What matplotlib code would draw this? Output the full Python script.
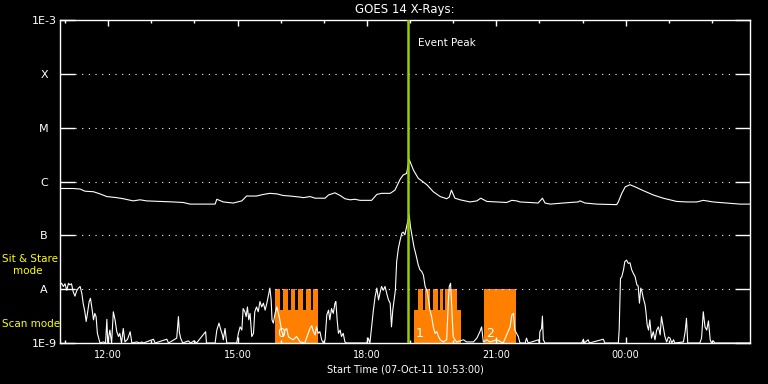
import matplotlib
matplotlib.use("Agg")
import matplotlib.pyplot as plt
from matplotlib.ticker import NullLocator
import numpy as np

# ---------- data ----------
# time in hours since 07-Oct-11 00:00, flux as log10(W/m^2)
LONG_T = [10.88, 11.19, 11.35, 11.46, 11.66, 11.81, 11.97, 12.20, 12.35, 12.58,
          12.74, 12.89, 13.20, 13.51, 13.74, 13.90, 14.48, 14.52, 14.67, 14.90,
          15.10, 15.21, 15.44, 15.60, 15.75, 15.91, 16.06, 16.22, 16.45, 16.53,
          16.68, 16.80, 17.03, 17.11, 17.26, 17.38, 17.49, 17.61, 17.72, 17.84,
          18.11, 18.23, 18.34, 18.54, 18.65, 18.77, 18.84, 18.92, 18.98, 19.08,
          19.19, 19.39, 19.54, 19.70, 19.85, 19.91, 19.96, 20.04, 20.16, 20.39,
          20.55, 20.64, 20.78, 21.24, 21.36, 21.47, 21.55, 21.78, 21.97, 22.07,
          22.13, 22.25, 22.55, 22.71, 22.90, 22.94, 23.06, 23.33, 23.79, 23.83,
          23.91, 23.99, 24.10, 24.22, 24.41, 24.64, 24.87, 25.18, 25.42, 25.65,
          25.80, 26.03, 26.34, 26.65, 26.88]
LONG_LOGF = [-6.13, -6.13, -6.14, -6.18, -6.19, -6.23, -6.28, -6.30, -6.32, -6.36,
             -6.34, -6.36, -6.37, -6.38, -6.39, -6.42, -6.42, -6.33, -6.38, -6.40,
             -6.36, -6.27, -6.27, -6.24, -6.22, -6.23, -6.26, -6.27, -6.29, -6.30,
             -6.28, -6.31, -6.31, -6.25, -6.21, -6.26, -6.32, -6.34, -6.33, -6.35,
             -6.35, -6.24, -6.22, -6.22, -6.16, -5.96, -5.88, -5.85, -5.59, -5.79,
             -5.94, -6.06, -6.19, -6.28, -6.32, -6.29, -6.16, -6.31, -6.34, -6.38,
             -6.36, -6.31, -6.37, -6.39, -6.35, -6.36, -6.38, -6.39, -6.40, -6.31,
             -6.40, -6.42, -6.40, -6.39, -6.38, -6.36, -6.40, -6.42, -6.43, -6.38,
             -6.22, -6.10, -6.06, -6.10, -6.17, -6.25, -6.31, -6.37, -6.38, -6.38,
             -6.35, -6.38, -6.40, -6.42, -6.42]

SHORT_T = [10.88, 10.92, 10.96, 11.00, 11.04, 11.08, 11.11, 11.15, 11.19, 11.23,
           11.27, 11.31, 11.35, 11.39, 11.42, 11.46, 11.49, 11.52, 11.56, 11.59,
           11.63, 11.66, 11.69, 11.72, 11.75, 11.78, 11.81, 11.89, 11.94, 11.97,
           11.99, 12.04, 12.08, 12.12, 12.16, 12.20, 12.24, 12.27, 12.31, 12.35,
           12.39, 12.45, 12.51, 12.55, 12.66, 12.74, 12.78, 12.82, 13.05, 13.09,
           13.36, 13.40, 13.59, 13.63, 13.65, 13.68, 13.73, 13.86, 13.91, 13.99,
           14.05, 14.26, 14.28, 14.48, 14.52, 14.57, 14.61, 14.65, 14.67, 14.71,
           14.75, 14.98, 15.02, 15.06, 15.10, 15.13, 15.17, 15.20, 15.23, 15.26,
           15.29, 15.33, 15.37, 15.40, 15.44, 15.48, 15.52, 15.56, 15.60, 15.64,
           15.68, 15.71, 15.75, 15.78, 15.80, 15.83, 15.87, 15.91, 15.95, 15.98,
           16.02, 16.06, 16.10, 16.14, 16.18, 16.22, 16.29, 16.37, 16.45, 16.56,
           16.68, 16.72, 16.76, 16.80, 16.83, 16.87, 16.91, 16.95, 16.99, 17.03,
           17.07, 17.11, 17.14, 17.18, 17.22, 17.26, 17.28, 17.31, 17.34, 17.38,
           17.41, 17.45, 17.49, 17.53, 18.00, 18.03, 18.07, 18.11, 18.15, 18.19,
           18.23, 18.27, 18.30, 18.34, 18.38, 18.42, 18.46, 18.50, 18.54, 18.57,
           18.60, 18.63, 18.66, 18.69, 18.73, 18.77, 18.81, 18.84, 18.88, 18.92,
           18.95, 18.98, 19.01, 19.05, 19.09, 19.14, 19.19, 19.23, 19.27, 19.31,
           19.35, 19.39, 19.42, 19.46, 19.50, 19.54, 19.58, 19.62, 19.66, 19.70,
           19.77, 19.85, 19.89, 19.91, 19.94, 19.97, 20.00, 20.04, 20.08, 20.24,
           20.31, 20.47, 20.55, 20.62, 20.66, 20.70, 20.78, 20.85, 21.01, 21.16,
           21.24, 21.32, 21.36, 21.40, 21.43, 21.51, 21.55, 21.67, 21.70, 21.74,
           21.98, 22.00, 22.01, 22.05, 22.07, 22.09, 22.13, 22.98, 23.02, 23.04,
           23.13, 23.16, 23.48, 23.52, 23.83, 23.85, 23.88, 23.91, 23.95, 23.98,
           24.02, 24.06, 24.10, 24.14, 24.18, 24.22, 24.26, 24.29, 24.32, 24.35,
           24.38, 24.41, 24.45, 24.47, 24.50, 24.53, 24.56, 24.60, 24.64, 24.68,
           24.72, 24.76, 24.80, 24.83, 24.87, 24.91, 24.95, 24.99, 25.03, 25.07,
           25.11, 25.14, 25.34, 25.38, 25.41, 25.44, 25.72, 25.76, 25.80, 25.84,
           25.88, 25.92, 25.96, 25.99, 26.03, 26.07, 26.88]
SHORT_LOGF = [-7.92, -7.89, -7.95, -7.90, -8.02, -7.89, -7.92, -7.90, -8.05, -8.13,
              -8.03, -7.98, -7.95, -8.08, -8.26, -8.42, -8.60, -8.45, -8.23, -8.17,
              -8.39, -8.57, -8.45, -8.51, -8.82, -8.91, -9.00, -8.98, -9.00, -8.56,
              -9.00, -8.76, -9.00, -8.42, -8.57, -8.79, -8.88, -8.82, -9.00, -8.73,
              -8.98, -8.93, -8.79, -9.00, -8.98, -9.00, -8.98, -9.00, -8.93, -9.00,
              -8.93, -9.00, -8.91, -8.51, -8.79, -8.91, -9.00, -8.96, -9.00, -8.96,
              -9.00, -8.79, -9.00, -9.00, -8.76, -8.63, -8.75, -8.85, -8.94, -8.73,
              -9.00, -9.00, -8.82, -8.70, -8.76, -8.36, -8.42, -8.51, -8.33, -8.57,
              -8.45, -8.88, -8.82, -8.42, -8.33, -8.42, -8.23, -8.33, -8.26, -8.39,
              -8.26, -8.14, -7.98, -8.20, -8.57, -8.63, -8.45, -8.33, -8.45, -8.57,
              -8.76, -8.88, -8.76, -8.73, -8.88, -8.91, -8.94, -8.88, -8.98, -9.00,
              -8.73, -8.68, -8.79, -8.85, -8.70, -8.82, -8.79, -8.94, -9.00, -8.94,
              -8.48, -8.39, -8.57, -8.36, -8.45, -8.26, -8.23, -8.57, -8.82, -8.76,
              -8.88, -8.82, -8.98, -9.00, -9.00, -8.91, -9.00, -8.70, -8.39, -8.14,
              -7.98, -8.20, -8.08, -7.95, -8.02, -7.95, -8.08, -8.20, -8.26, -8.70,
              -8.39, -8.20, -8.02, -7.49, -7.24, -7.09, -6.96, -6.94, -6.99, -6.84,
              -6.72, -6.62, -6.84, -7.02, -7.21, -7.37, -7.55, -7.64, -7.67, -7.74,
              -7.95, -8.02, -8.14, -8.39, -8.51, -8.70, -8.82, -8.79, -8.88, -8.94,
              -8.98, -8.94, -8.20, -7.95, -7.89, -8.39, -8.88, -8.94, -8.98, -8.94,
              -8.98, -8.98, -8.91, -8.79, -8.70, -8.98, -8.94, -8.98, -8.94, -9.00,
              -8.85, -8.70, -8.48, -8.45, -8.76, -8.88, -9.00, -9.00, -8.91, -9.00,
              -8.94, -9.00, -8.79, -8.73, -8.50, -8.94, -9.00, -9.00, -8.93, -9.00,
              -8.94, -9.00, -8.93, -9.00, -9.00, -8.75, -7.80, -7.77, -7.64, -7.49,
              -7.46, -7.52, -7.51, -7.64, -7.71, -7.77, -7.92, -7.94, -8.26, -7.98,
              -8.05, -8.17, -8.29, -8.42, -8.67, -8.76, -8.57, -8.91, -8.79, -8.94,
              -8.76, -8.70, -8.85, -8.51, -8.70, -8.88, -8.98, -8.89, -8.91, -9.00,
              -8.94, -9.00, -8.98, -8.79, -8.54, -9.00, -9.00, -8.91, -8.42, -8.70,
              -8.76, -8.59, -8.94, -9.00, -8.96, -9.00, -9.00]

# observation blocks (hours)
SCAN_START = [15.87, 19.09]
SCAN_END = [16.87, 20.18]
STARE_START = [15.87, 16.05, 16.23, 16.40, 16.58, 16.76,
               19.19, 19.35, 19.53, 19.70, 19.81,
               20.72]
STARE_END = [15.98, 16.16, 16.34, 16.52, 16.70, 16.87,
             19.29, 19.46, 19.64, 19.76, 20.08,
             21.45]
BLOCK_T = [15.87, 19.09, 20.72]
BLOCK_LABELS = ["0", "1", "2"]
SCAN_TOP = 4.1e-9
STARE_TOP = 1e-8

EVENT_PEAK_T = 18.95
T_START = 10 + 53 / 60.0
T_END = T_START + 16

Y_TICKS = [1e-9, 1e-8, 1e-7, 1e-6, 1e-5, 1e-4, 1e-3]
Y_LABELS = ["1E-9", "A", "B", "C", "M", "X", "1E-3"]
X_TICKS = [12, 15, 18, 21, 24]
X_LABELS = ["12:00", "15:00", "18:00", "21:00", "00:00"]
X_MINOR = list(range(11, 27))

ORANGE = "#ff8000"
YELLOW = "#ffff00"
LIME = "#9acd00"

# ---------- figure ----------
W, H = 768, 384
fig = plt.figure(figsize=(W / 100, H / 100), dpi=100, facecolor="black")
ax = fig.add_axes([60 / W, 41 / H, 690 / W, 323 / H], facecolor="black")
ax.set_yscale("log")
ax.set_xlim(T_START, T_END)
ax.set_ylim(1e-9, 1e-3)

# orange mode blocks
for s, e in zip(SCAN_START, SCAN_END):
    ax.bar(s, SCAN_TOP - 1e-9, bottom=1e-9, width=e - s, align="edge",
           color=ORANGE, linewidth=0, zorder=1)
for s, e in zip(STARE_START, STARE_END):
    ax.bar(s, STARE_TOP - 1e-9, bottom=1e-9, width=e - s, align="edge",
           color=ORANGE, linewidth=0, zorder=1)
for t, lab in zip(BLOCK_T, BLOCK_LABELS):
    ax.text(t + 0.04, 1.15e-9, lab, color="white", fontsize=9,
            ha="left", va="bottom", zorder=2)

# dotted level lines
for y in Y_TICKS[1:-1]:
    ax.axhline(y, xmin=15 / 690, xmax=675 / 690, color="white", lw=0.8,
               linestyle=(0, (1, 5)), zorder=1.5)

# flux curves
ax.plot(LONG_T, 10 ** np.array(LONG_LOGF), color="white", lw=0.8, zorder=3)
ax.plot(SHORT_T, 10 ** np.array(SHORT_LOGF), color="white", lw=0.8, zorder=3)

# event peak
ax.axvline(EVENT_PEAK_T, color=LIME, lw=1.8, zorder=4)
ax.text(EVENT_PEAK_T + 0.23, 10 ** -3.43, "Event Peak", color="white",
        fontsize=7.5, ha="left", va="center")

# axes styling
for sp in ax.spines.values():
    sp.set_color("white")
    sp.set_linewidth(1)

ax.set_yticks(Y_TICKS)
ax.set_yticklabels(Y_LABELS)
ax.yaxis.set_minor_locator(NullLocator())
ax.tick_params(axis="y", which="major", direction="in", length=10.8,
               width=1, right=True, colors="white", labelsize=8, pad=11.5)
for lbl in ax.get_yticklabels():
    lbl.set_ha("center")

ax.set_xticks(X_TICKS)
ax.set_xticklabels(X_LABELS)
ax.set_xticks(X_MINOR, minor=True)
ax.tick_params(axis="x", which="major", direction="in", length=4.3,
               width=1, top=True, colors="white", labelsize=7, pad=5)
ax.tick_params(axis="x", which="minor", direction="in", length=2.5,
               width=1, top=True, colors="white")

# texts
fig.text(405 / W, 1 - 9 / H, "GOES 14 X-Rays:", color="white",
         fontsize=8.5, ha="center", va="center")
fig.text(405 / W, 1 - 369 / H, "Start Time (07-Oct-11 10:53:00)",
         color="white", fontsize=7, ha="center", va="center")
fig.text(2 / W, 1 - 259 / H, "Sit & Stare", color=YELLOW, fontsize=7.5,
         ha="left", va="center")
fig.text(13 / W, 1 - 271 / H, "mode", color=YELLOW, fontsize=7.5,
         ha="left", va="center")
fig.text(2 / W, 1 - 324 / H, "Scan mode", color=YELLOW, fontsize=7.5,
         ha="left", va="center")

fig.savefig("out.png", dpi=100, facecolor="black")
